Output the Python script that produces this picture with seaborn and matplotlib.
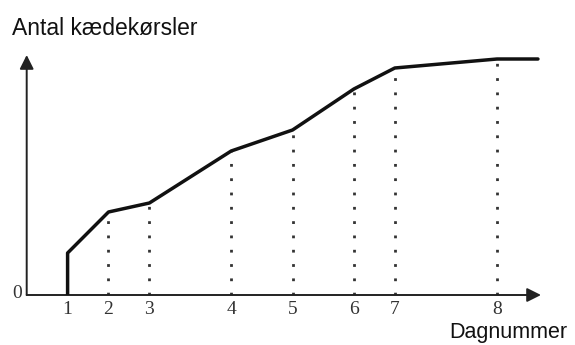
import matplotlib
matplotlib.use("Agg")
import matplotlib.pyplot as plt
import seaborn as sns

# Day numbers and their positions along the (uneven) x axis
day_labels = ['1', '2', '3', '4', '5', '6', '7', '8']
day_positions = [0, 2, 4, 8, 11, 14, 16, 21]

# Cumulative number of chain runs (no scale given)
curve_x = [0, 0, 2, 4, 8, 11, 14, 16, 21, 23]
curve_y = [0, 42, 83, 92, 144, 165, 206, 227, 236, 236]
day_values = [83, 92, 144, 165, 206, 227, 236]


def main():
    sns.set_theme(style="white")
    plt.rcParams['font.family'] = ['Liberation Sans', 'DejaVu Sans']

    W, H = 575, 345
    fig = plt.figure(figsize=(W / 100, H / 100), dpi=100)

    # axes area: y axis at x=26.7px, x axis at y=295px
    x0, x1 = 26.7, 541
    y0, y1 = 295, 55
    ax = fig.add_axes([x0 / W, 1 - y0 / H, (x1 - x0) / W, (y0 - y1) / H])
    ax.set_xlim(-2, 23.15)
    ax.set_ylim(0, 240)
    for s in ax.spines.values():
        s.set_visible(False)
    ax.patch.set_alpha(0)

    # dotted guide lines from axis up to the curve
    ax.vlines(day_positions[1:], 0, day_values, colors='#333333',
              linestyles=(0, (1, 4.15)), lw=2.0, zorder=1)

    sns.lineplot(x=curve_x, y=curve_y, sort=False, estimator=None, errorbar=None,
                 color='#111111', lw=2.5, ax=ax, zorder=3)

    # axes with arrowheads
    arrow = dict(arrowstyle='-|>', lw=1.4, color='#222222',
                 mutation_scale=21, shrinkA=0, shrinkB=0)
    ax.annotate('', xy=(23.15, 0), xytext=(-2, 0), arrowprops=arrow,
                annotation_clip=False, zorder=2)
    ax.annotate('', xy=(-2, 240), xytext=(-2, 0), arrowprops=arrow,
                annotation_clip=False, zorder=2)

    ax.set_xticks(day_positions, labels=day_labels)
    ax.set_yticks([])
    ax.tick_params(axis='x', length=0, pad=4, labelsize=14, labelcolor='#333333')
    for lbl in ax.get_xticklabels():
        lbl.set_fontfamily('Liberation Serif')

    ax.annotate('0', xy=(-2, 0), xytext=(-3.5, -2.5), textcoords='offset points',
                ha='right', va='baseline', fontsize=14, color='#333333',
                family='Liberation Serif', annotation_clip=False)

    fig.text(12 / W, 1 - 35 / H, 'Antal kædekørsler', fontsize=16.5,
             ha='left', va='baseline', color='#111111')
    fig.text(567 / W, 1 - 338 / H, 'Dagnummer', fontsize=15.5,
             ha='right', va='baseline', color='#111111')

    plt.savefig('out.png', dpi=100)
    plt.close()


if __name__ == "__main__":
    main()
